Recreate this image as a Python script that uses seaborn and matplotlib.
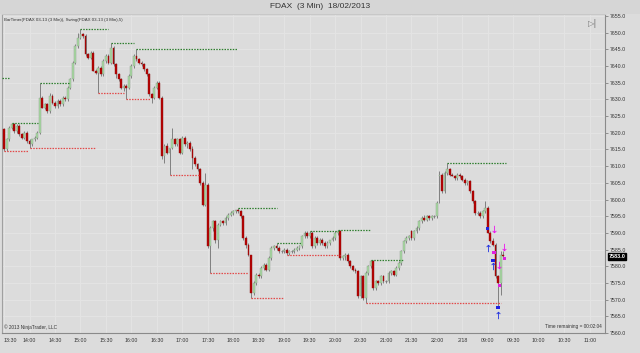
import numpy as np
import pandas as pd
import matplotlib
matplotlib.use("Agg")
import matplotlib.pyplot as plt
import seaborn as sns

# ---------------- data (FDAX 3 min bars) ----------------
opens = [
    7621, 7615, 7618, 7621.5, 7622.5, 7620.5, 7622, 7619.5, 7618.5, 7620,
    7617.5, 7616.5, 7618, 7618.5, 7620, 7630.5, 7627.5, 7628.5, 7626.5, 7631,
    7629, 7628, 7629.5, 7628.5, 7630.5, 7630, 7633.5, 7636, 7641, 7646,
    7648.5, 7649.5, 7649, 7643.5, 7642.5, 7644, 7638.5, 7638, 7639.5, 7637.5,
    7641.5, 7643, 7641, 7645.5, 7640.5, 7637.5, 7636, 7633.5, 7634, 7633.5,
    7637, 7640, 7643, 7642, 7641, 7640.5, 7639, 7637.5, 7631.5, 7630.5,
    7633.5, 7635, 7630.5, 7613, 7616, 7614, 7615.5, 7618, 7616.5, 7618,
    7614, 7618.5, 7616.5, 7617, 7615, 7612.5, 7610.5, 7609, 7605, 7598.5,
    7604.5, 7586, 7591.5, 7593.5, 7588, 7592.5, 7593.5, 7593, 7594.5, 7595.5,
    7596, 7596.5, 7597, 7596.5, 7595, 7588.5, 7586.5, 7583.5, 7572, 7575,
    7577.5, 7577, 7579.5, 7580.5, 7579, 7582.5, 7585.5, 7586, 7585.5, 7584.5,
    7584.5, 7585, 7584, 7584.5, 7584.5, 7585, 7585.5, 7586, 7589, 7590,
    7589, 7590, 7586, 7588.5, 7587, 7588, 7587, 7586, 7587, 7588,
    7588.5, 7590, 7590.5, 7582.5, 7583, 7583.5, 7581.5, 7580, 7579, 7578.5,
    7571, 7577, 7570.5, 7578, 7580, 7581.5, 7573.5, 7575.5, 7575, 7577,
    7575.5, 7575.5, 7578, 7578.5, 7577.5, 7579.5, 7581, 7584.5, 7587.5, 7588.5,
    7590.5, 7588.5, 7590.5, 7591.5, 7593.5, 7594.5, 7594, 7595, 7594.5, 7595,
    7595, 7607, 7607.5, 7602.5, 7608, 7609, 7607.5, 7607, 7606.5, 7607.5,
    7607, 7606, 7605, 7605.5, 7602.5, 7599.5, 7596, 7596, 7595, 7596.5,
    7597.5, 7590, 7587.5, 7586.5, 7577, 7575, 7583.5,
]
highs = [
    7621.5, 7618.5, 7622, 7623, 7623, 7622.5, 7622.5, 7620, 7620.5, 7620.5,
    7618, 7618, 7619, 7620.5, 7635, 7631, 7629, 7629, 7632, 7631.5,
    7629.5, 7630, 7630, 7631, 7631, 7634, 7636.5, 7641.5, 7646.5, 7650,
    7651, 7650, 7649.5, 7644, 7644.5, 7644.5, 7639, 7640, 7640, 7642,
    7643.5, 7643.5, 7647, 7646, 7641, 7638, 7636.5, 7634.5, 7634.5, 7637.5,
    7640.5, 7643.5, 7645, 7642.5, 7641.5, 7641, 7639.5, 7638, 7632, 7634,
    7635.5, 7635.5, 7631, 7616.5, 7617, 7615.5, 7621.5, 7618.5, 7618.5, 7618.5,
    7619, 7619, 7617.5, 7617.5, 7616, 7613, 7611, 7609.5, 7605.5, 7608,
    7605, 7592, 7594, 7594, 7593, 7594, 7594, 7595, 7596, 7596.5,
    7597, 7597, 7597.5, 7597, 7595.5, 7589, 7587, 7583.5, 7575.5, 7578,
    7578, 7580, 7581, 7581, 7583, 7586, 7586.5, 7587, 7586, 7585,
    7585.5, 7585.5, 7585, 7585, 7585.5, 7586, 7586.5, 7589.5, 7590.5, 7590.5,
    7590.5, 7590.5, 7589, 7589, 7588.5, 7588.5, 7587.5, 7587.5, 7588, 7589,
    7590.5, 7591, 7591, 7583.5, 7584, 7584, 7582, 7580.5, 7579.5, 7579,
    7577.5, 7577.5, 7578.5, 7580.5, 7582, 7582, 7576, 7576, 7577.5, 7577.5,
    7576, 7578.5, 7579, 7579, 7580, 7581.5, 7585, 7588, 7589, 7589.5,
    7591, 7591, 7592, 7594, 7595, 7595.5, 7595.5, 7595.5, 7595.5, 7595.5,
    7599.5, 7608.5, 7608, 7608.5, 7611, 7609.5, 7608, 7607.5, 7608, 7608,
    7607.5, 7606.5, 7606, 7606, 7603, 7600, 7596.5, 7596.5, 7597, 7599.5,
    7598, 7590.5, 7588.5, 7587, 7577.5, 7584.5, 7584.5,
]
lows = [
    7614.5, 7614.5, 7617.5, 7621, 7620, 7620, 7619, 7618, 7618, 7617,
    7615.5, 7616, 7617.5, 7618, 7619.5, 7627.5, 7627, 7626, 7626, 7628.5,
    7627.5, 7627.5, 7628, 7628, 7629.5, 7629.5, 7633, 7635.5, 7640.5, 7645.5,
    7648, 7648.5, 7643, 7642, 7642, 7638.5, 7637.5, 7632, 7637, 7637,
    7641, 7640.5, 7640.5, 7640, 7636.5, 7635.5, 7633, 7632.5, 7630, 7633,
    7636.5, 7639.5, 7641.5, 7640.5, 7640, 7638.5, 7637, 7631, 7629, 7630,
    7633, 7630, 7612, 7611, 7613.5, 7607.5, 7615, 7616, 7616, 7613.5,
    7613.5, 7616, 7615.5, 7614.5, 7609, 7610, 7608.5, 7604.5, 7598, 7598,
    7585.5, 7578, 7590.5, 7587, 7585.5, 7592, 7592.5, 7592.5, 7594, 7595,
    7595.5, 7596, 7596, 7594.5, 7588, 7585.5, 7583, 7570.5, 7571.5, 7574.5,
    7576.5, 7576.5, 7579, 7578.5, 7578.5, 7582, 7585, 7585, 7584, 7584,
    7584, 7583.5, 7583.5, 7584, 7584, 7584.5, 7585, 7585.5, 7588.5, 7588.5,
    7588.5, 7585.5, 7585.5, 7586.5, 7586.5, 7586.5, 7585.5, 7585.5, 7586.5, 7587.5,
    7588, 7589.5, 7582, 7582, 7582, 7581, 7579.5, 7578.5, 7578, 7570.5,
    7570.5, 7570, 7569, 7577.5, 7579.5, 7573, 7573, 7574.5, 7574.5, 7575,
    7575, 7575, 7577.5, 7577, 7577, 7579, 7580.5, 7584, 7587, 7588,
    7588, 7588, 7590, 7591, 7593, 7593.5, 7593.5, 7594, 7594, 7594.5,
    7594.5, 7599, 7602, 7602, 7607.5, 7607, 7607, 7606, 7606, 7606.5,
    7605.5, 7604.5, 7604.5, 7602, 7599, 7595.5, 7595.5, 7594.5, 7594.5, 7596,
    7590, 7587, 7586, 7576.5, 7567.5, 7571.5, 7582.5,
]
closes = [
    7615, 7618, 7621.5, 7622.5, 7620.5, 7622, 7619.5, 7618.5, 7620, 7617.5,
    7616.5, 7618, 7618.5, 7620, 7630.5, 7627.5, 7628.5, 7626.5, 7631, 7629,
    7628, 7629.5, 7628.5, 7630.5, 7630, 7633.5, 7636, 7641, 7646, 7648.5,
    7649.5, 7649, 7643.5, 7642.5, 7644, 7638.5, 7638, 7639.5, 7637.5, 7641.5,
    7643, 7641, 7645.5, 7640.5, 7637.5, 7636, 7633.5, 7634, 7633.5, 7637,
    7640, 7643, 7642, 7641, 7640.5, 7639, 7637.5, 7631.5, 7630.5, 7633.5,
    7635, 7630.5, 7613, 7616, 7614, 7615.5, 7618, 7616.5, 7618, 7614,
    7618.5, 7616.5, 7617, 7615, 7612.5, 7610.5, 7609, 7605, 7598.5, 7604.5,
    7586, 7591.5, 7593.5, 7588, 7592.5, 7593.5, 7593, 7594.5, 7595.5, 7596,
    7596.5, 7597, 7596.5, 7595, 7588.5, 7586.5, 7583.5, 7572, 7575, 7577.5,
    7577, 7579.5, 7580.5, 7579, 7582.5, 7585.5, 7586, 7585.5, 7584.5, 7584.5,
    7585, 7584, 7584.5, 7584.5, 7585, 7585.5, 7586, 7589, 7590, 7589,
    7590, 7586, 7588.5, 7587, 7588, 7587, 7586, 7587, 7588, 7588.5,
    7590, 7590.5, 7582.5, 7583, 7583.5, 7581.5, 7580, 7579, 7578.5, 7571,
    7577, 7570.5, 7578, 7580, 7581.5, 7573.5, 7575.5, 7575, 7577, 7575.5,
    7575.5, 7578, 7578.5, 7577.5, 7579.5, 7581, 7584.5, 7587.5, 7588.5, 7589,
    7588.5, 7590.5, 7591.5, 7593.5, 7594.5, 7594, 7595, 7594.5, 7595, 7595,
    7599, 7607.5, 7602.5, 7608, 7609, 7607.5, 7607, 7606.5, 7607.5, 7607,
    7606, 7605, 7605.5, 7602.5, 7599.5, 7596, 7596, 7595, 7596.5, 7597.5,
    7590, 7587.5, 7586.5, 7577, 7575, 7583.5, 7583,
]

x_tick_labels = ["13:30", "14:00", "14:30", "15:00", "15:30", "16:00", "16:30",
                 "17:00", "17:30", "18:00", "18:30", "19:00", "19:30", "20:00",
                 "20:30", "21:00", "21:30", "22:00", "2/18", "09:00", "09:30",
                 "10:00", "10:30", "11:00"]
bars_per_label = 10

# swing indicator levels (start bar, end bar, price)
swing_high_start = [-0.8, 3, 14, 30, 42, 52, 92, 107, 120, 131, 144, 174]
swing_high_end = [2, 13.5, 25.5, 41, 51, 91.5, 107, 116.5, 131, 144, 156.5, 197]
swing_high_price = [7636.5, 7623, 7635, 7651, 7647, 7645, 7597.5, 7587, 7590.5,
                    7591, 7582, 7611]
swing_low_start = [0, 10, 37, 48, 65, 81, 97, 111, 142]
swing_low_end = [9.5, 36, 47, 57.5, 77, 96, 110, 132, 195]
swing_low_price = [7614.5, 7615.5, 7632, 7630, 7607.5, 7578, 7570.5, 7583.5, 7569]

# signal markers
blue_bars = [190, 192, 194]
blue_dot_price = [7591.4, 7581.8, 7567.7]
blue_arrow_price = [7585.4, 7580.0, 7565.3]
magenta_bars = [192, 194, 196]
magenta_dot_price = [7584.2, 7574.3, 7582.4]
magenta_arrow_price = [7591.1, 7580.3, 7585.7]

last_price = 7583.0
y_min, y_max, y_step = 7560, 7655, 5

assert len(opens) == len(highs) == len(lows) == len(closes)

# ---------------- styling ----------------
sns.set_style("white")
plt.rcParams["font.family"] = ["Liberation Sans", "DejaVu Sans"]

BG = "#dcdcdc"
GRID = "#e4e4e4"
UP = "#a8dba2"
DOWN = "#b80000"
WICK = "#808080"

W, H = 640, 353
fig = plt.figure(figsize=(W / 100, H / 100), dpi=100, facecolor=BG)
ax = fig.add_axes([2 / W, 20 / H, 603 / W, 319 / H])
ax.set_facecolor(BG)

df = pd.DataFrame({"open": opens, "high": highs, "low": lows, "close": closes})
df["bar"] = np.arange(len(df))
up = df["close"] > df["open"]
down = df["close"] < df["open"]
flat = df["close"] == df["open"]

# wicks
ax.vlines(df["bar"], df["low"], df["high"], color=WICK, lw=0.7, zorder=2)
# bodies
body_w = 0.72
ax.bar(df.loc[up, "bar"], df.loc[up, "close"] - df.loc[up, "open"],
       bottom=df.loc[up, "open"], width=body_w, color=UP, edgecolor="#8a9a88",
       linewidth=0.3, zorder=3)
ax.bar(df.loc[down, "bar"], df.loc[down, "open"] - df.loc[down, "close"],
       bottom=df.loc[down, "close"], width=body_w, color=DOWN, edgecolor="#8a1010",
       linewidth=0.3, zorder=3)
ax.hlines(df.loc[flat, "close"], df.loc[flat, "bar"] - body_w / 2,
          df.loc[flat, "bar"] + body_w / 2, color=WICK, lw=0.8, zorder=3)

# swing lines
ax.hlines(swing_high_price, swing_high_start, swing_high_end, color="#2f7f2f",
          lw=0.9, linestyles=(0, (1.2, 1.0)), zorder=4)
ax.hlines(swing_low_price, swing_low_start, swing_low_end, color="#e24a4a",
          lw=0.9, linestyles=(0, (1.2, 1.0)), zorder=4)

# signal markers
mk = pd.DataFrame({
    "bar": blue_bars + magenta_bars,
    "price": blue_dot_price + magenta_dot_price,
    "kind": ["blue"] * 3 + ["magenta"] * 3,
})
mk.loc[mk["kind"] == "magenta", "bar"] += 0.4
sns.scatterplot(data=mk, x="bar", y="price", hue="kind",
                palette={"blue": "#2020e0", "magenta": "#e020e0"},
                marker="s", s=5, linewidth=0, legend=False, ax=ax, zorder=6)
ar_up = pd.DataFrame({"bar": blue_bars, "price": blue_arrow_price})
ar_dn = pd.DataFrame({"bar": [b + 0.4 for b in magenta_bars], "price": magenta_arrow_price})
sns.scatterplot(data=ar_up, x="bar", y="price", marker=r"$\uparrow$", s=28,
                color="#1f2fe0", linewidth=0, legend=False, ax=ax, zorder=6)
sns.scatterplot(data=ar_dn, x="bar", y="price", marker=r"$\downarrow$", s=28,
                color="#ee10ee", linewidth=0, legend=False, ax=ax, zorder=6)

# axes
ax.set_xlim(-0.8, 236)
ax.set_ylim(y_min, y_max + 0.6)
xt = np.arange(len(x_tick_labels)) * bars_per_label
ax.set_xticks(xt)
ax.set_xticklabels(x_tick_labels, fontsize=3.8, color="#333333")
ax.get_xticklabels()[0].set_horizontalalignment("left")
ax.get_xticklabels()[0].set_x(-0.5)
yt = np.arange(y_min, y_max + 0.1, y_step)
ax.set_yticks(yt)
ax.set_yticklabels([f"{v:.1f}" for v in yt], fontsize=3.8, color="#333333")
ax.yaxis.tick_right()
ax.tick_params(axis="both", length=2, width=0.5, color="#707070", pad=1.5)
ax.grid(True, color=GRID, lw=0.7, zorder=0)
ax.set_axisbelow(True)
ax.set_xlabel("")
ax.set_ylabel("")
for side, sp in ax.spines.items():
    sp.set_color("#8a8a8a")
    sp.set_linewidth(0.8)
ax.spines["top"].set_color("#c8c8c8")
ax.spines["left"].set_color("#a0a0a0")

# last price label
ax.annotate(f"{last_price:.1f}", xy=(1, last_price), xycoords=("axes fraction", "data"),
            xytext=(2.5, 0), textcoords="offset points", va="center", ha="left",
            fontsize=4, color="white", fontweight="bold",
            bbox=dict(boxstyle="square,pad=0.15", fc="black", ec="black"),
            annotation_clip=False, zorder=10)

# header / decorations
fig.patches.append(plt.Rectangle((0, 1 - 14 / H), 1, 14 / H, transform=fig.transFigure,
                                 facecolor="#d6d6d6", edgecolor="none", zorder=0))
fig.text(0.5, 1 - 7 / H, "FDAX  (3 Min)  18/02/2013", ha="center", va="center",
         fontsize=6, color="#333333")
ax.text(0.003, 0.988, "BarTimer(FDAX 03-13 (3 Min)), Swing(FDAX 03-13 (3 Min),5)",
        transform=ax.transAxes, ha="left", va="top", fontsize=3.2, color="#333333")
ax.text(0.988, 0.985, "▷|", transform=ax.transAxes, ha="right", va="top",
        fontsize=6, color="#777777", family="DejaVu Sans")
ax.text(0.003, 0.008, "© 2013 NinjaTrader, LLC", transform=ax.transAxes,
        ha="left", va="bottom", fontsize=3.4, color="#333333")
ax.text(0.995, 0.012, "Time remaining = 00:02:04", transform=ax.transAxes,
        ha="right", va="bottom", fontsize=3.4, color="#333333")

fig.savefig("out.png", dpi=100, facecolor=BG)
